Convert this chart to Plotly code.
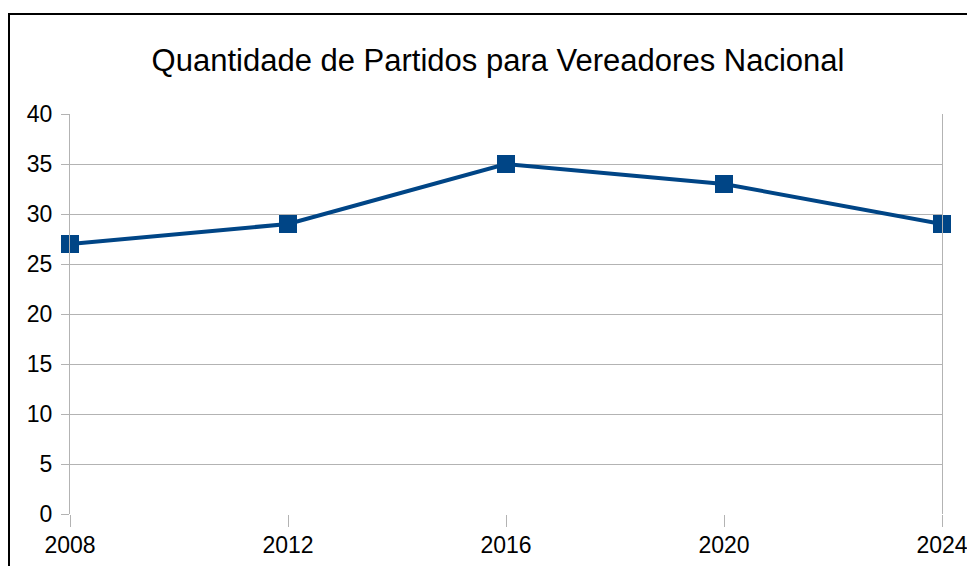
import plotly.graph_objects as go

years = [2008, 2012, 2016, 2020, 2024]
partidos = [27, 29, 35, 33, 29]
title_text = "Quantidade de Partidos para Vereadores Nacional"
y_ticks = [0, 5, 10, 15, 20, 25, 30, 35, 40]

GRID = "#b3b3b3"
SERIES = "#004586"
FONT = "Liberation Sans, Arial, sans-serif"

fig = go.Figure()
fig.add_trace(go.Scatter(
    x=years, y=partidos, mode="lines+markers",
    line=dict(color=SERIES, width=4),
    marker=dict(symbol="square", size=18, color=SERIES),
    cliponaxis=False, showlegend=False,
))

# page body has an 8px top/left margin; figure sized so the plot lands at the reference pixels
OFF = 8
W, H = 975 - OFF, 566 - OFF
PW, PH = 872, 400
L, T = 70 - OFF, 114 - OFF
R = W - L - PW
B = H - T - PH

fig.update_layout(
    width=W, height=H, autosize=False,
    margin=dict(l=L, r=R, t=T, b=B, pad=0, autoexpand=False),
    paper_bgcolor="white", plot_bgcolor="white",
    font=dict(family=FONT, color="#000000"),
    title=dict(text=title_text, x=(498 - OFF) / W, xanchor="center",
               y=1 - (60 - OFF) / H, yanchor="middle", yref="container",
               font=dict(size=31, family=FONT, color="#000000")),
    xaxis=dict(range=[2008, 2024], tickvals=years, ticktext=[str(y) for y in years],
               showgrid=False, zeroline=False, showline=False, automargin=False,
               ticks="outside", ticklen=12, tickcolor=GRID, tickwidth=1,
               ticklabelstandoff=-2,
               tickfont=dict(size=23, family=FONT, color="#000000")),
    yaxis=dict(range=[0, 40], tickvals=y_ticks, showgrid=True, gridcolor=GRID, gridwidth=1,
               zeroline=False, showline=True, linecolor=GRID, linewidth=1, mirror=True,
               automargin=False,
               ticks="outside", ticklen=8, tickcolor=GRID, tickwidth=1,
               ticklabelstandoff=4,
               tickfont=dict(size=23, family=FONT, color="#000000")),
    shapes=[dict(type="rect", xref="paper", yref="paper",
                 x0=(9 - OFF - L) / PW, x1=1 + 80 / PW,
                 y0=-80 / PH, y1=1 + (T - (14 - OFF)) / PH,
                 line=dict(color="#000000", width=2), fillcolor="rgba(0,0,0,0)", layer="above")],
)

fig.write_html("out.html")
